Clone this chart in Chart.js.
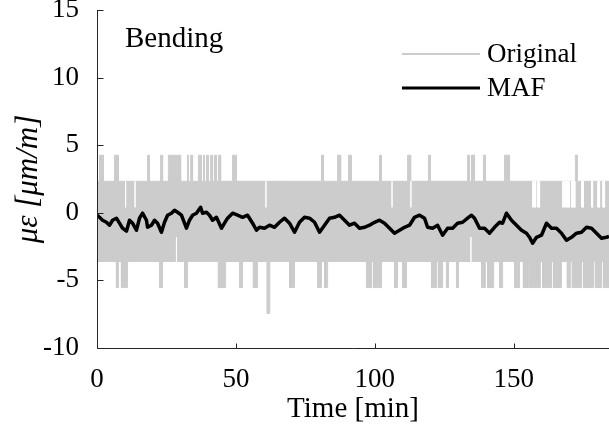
<!DOCTYPE html>
<html>
<head>
<meta charset="utf-8">
<script src="https://cdn.jsdelivr.net/npm/chart.js@4.4.1/dist/chart.umd.min.js"></script>
<style>
  html, body { margin: 0; padding: 0; background: #fff; }
</style>
</head>
<body>
<canvas id="bendingChart" width="609" height="432"></canvas>
<script>
// tick labels
const xTicks = [0, 50, 100, 150];
const yTicks = [-10, -5, 0, 5, 10, 15];

// quantized levels of the raw (Original) signal, in microstrain
const bandTop = 2.33;
const bandBottom = -3.63;
const spikeHigh = 4.26;
const spikeLow = -5.53;
const spikeDeep = -7.45;
const gapTopFloor = 0.4;
const gapBottomCeil = -1.8;

// [start, end] in minutes where the raw signal jumps outside the band
const upSpikes = [[0.9,2.3],[6.3,7.7],[18.2,18.9],[22.9,23.6],[25.7,26.8],[27.2,28.6],[29.0,30.1],
  [32.6,32.9],[33.7,34.4],[36.5,37.6],[38.3,38.7],[39.4,40.1],[40.9,41.6],[42.3,43.0],[43.7,44.5],
  [48.8,50.2],[80.8,81.5],[86.6,87.7],[90.5,91.6],[101.7,102.4],[111.8,112.9],[119.3,120.0],
  [133.4,134.1],[134.8,135.9],[139.1,139.8],[146.7,148.5],[172.2,172.9]];
const downSpikes = [[7.0,7.7],[8.8,11.0],[22.5,23.6],[31.5,32.6],[43.7,46.3],[51.3,52.4],[56.3,57.8],
  [69.3,71.1],[79.4,80.8],[81.9,83.0],[97.0,98.8],[99.5,101.0],[101.3,102.4],[107.1,108.2],[110.0,111.4],
  [120.4,122.2],[122.9,124.4],[125.8,126.5],[129.4,130.1],[138.4,139.8],[140.6,142.8],[144.9,146.0],
  [150.3,152.1],[153.5,155.3],[155.7,159.6],[160.4,163.6],[164.3,167.2],[169.3,170.4],[171.1,174.4],
  [175.1,178.7],[179.4,181.6],[182.3,184.3]];
const deepSpikes = [[61.3,62.2]];
// places where the raw signal did not reach the band edge
const topGaps = [[10.3,10.3],[13.7,13.7],[60.8,60.8],[106.2,106.2],[113.0,113.0],[156.8,157.9],
  [158.6,159.3],[167.6,170.1],[170.8,172.0],[174.4,175.1],[178.0,178.4],[180.2,180.9],[182.0,182.7]];
const bottomGaps = [[28.6,28.6],[134.6,134.6]];

// moving average filter
const mafTime = [0,0.9,2.0,3.4,4.5,5.6,7.0,8.1,9.2,10.6,11.7,12.8,14.2,15.3,16.4,17.8,18.2,19.6,20.7,21.8,
  23.2,24.3,25.4,26.8,27.9,29.0,30.4,31.5,32.2,33.3,34.4,35.8,37.3,38.0,39.4,40.5,41.6,43.0,44.8,45.9,
  47.0,48.8,50.6,52.4,54.2,56.0,57.4,58.5,60.3,62.1,63.9,65.7,67.5,69.3,71.1,72.9,74.7,76.5,78.3,80.1,
  81.9,83.7,85.5,87.3,89.1,90.9,92.7,94.5,96.3,98.1,99.9,101.7,103.5,105.3,107.1,108.9,110.7,112.5,114.3,116.1,
  117.9,119.0,120.8,122.6,124.4,126.2,128.0,129.8,131.6,133.4,134.8,135.9,137.7,139.5,141.3,143.1,144.9,146.0,147.4,149.2,
  151.0,152.8,154.6,155.7,156.8,158.2,160.0,161.8,163.6,165.4,167.2,169.0,170.8,172.6,174.4,176.2,178.0,179.8,181.6,183.4,184.3];
const mafValue = [-0.18,-0.33,-0.55,-0.70,-0.92,-0.55,-0.40,-0.77,-1.14,-1.36,-0.55,-0.77,-1.29,-0.40,-0.03,-0.55,-1.07,-0.92,-0.55,-0.77,
  -1.44,-0.70,-0.18,-0.03,0.19,0.04,-0.18,-0.77,-1.14,-0.55,-0.18,-0.03,0.41,-0.03,0.04,-0.18,-0.55,-0.33,-1.14,-0.77,
  -0.40,-0.03,-0.18,-0.33,-0.18,-0.77,-1.29,-1.07,-1.14,-0.92,-1.07,-0.70,-0.40,-0.77,-1.44,-0.70,-0.33,-0.40,-0.70,-1.44,
  -0.92,-0.40,-0.33,-0.18,-0.55,-0.92,-0.77,-1.14,-1.07,-0.92,-0.70,-0.55,-0.77,-1.14,-1.51,-1.29,-1.07,-0.92,-0.33,-0.18,
  -0.40,-1.07,-1.14,-0.92,-1.66,-1.14,-1.14,-0.77,-0.70,-0.40,-0.18,-0.40,-1.14,-1.14,-1.51,-1.07,-0.70,-0.77,-0.03,-0.55,
  -0.92,-1.29,-1.51,-1.81,-2.25,-1.81,-1.66,-0.77,-1.14,-1.14,-1.51,-2.03,-1.81,-1.51,-1.44,-1.07,-1.14,-1.51,-1.88,-1.81,-1.75];

const X_MAX = 184.3;
const GRAY = '#cccccc';
const AXIS = '#262626';
const FONT = "'Liberation Serif', 'Times New Roman', serif";

// turn [start,end] pairs into closed step blocks, split by nulls
function blocks(list, base, peak) {
  const pts = [];
  list.forEach(([a, b]) => {
    pts.push({x: a, y: base}, {x: a, y: peak}, {x: b, y: peak}, {x: b, y: base}, {x: b, y: null});
  });
  return pts;
}

const mafData = mafTime.map((t, i) => ({x: t, y: mafValue[i]}));

const decorations = {
  id: 'decorations',
  afterDatasetsDraw(chart) {
    const {ctx, chartArea: area, scales: {x, y}} = chart;
    ctx.save();
    // axes + inward ticks
    ctx.strokeStyle = AXIS;
    ctx.lineWidth = 1;
    ctx.beginPath();
    const left = Math.round(area.left) + 0.5;
    const bottom = Math.round(area.bottom) + 0.5;
    ctx.moveTo(left, area.top);
    ctx.lineTo(left, bottom);
    ctx.lineTo(area.right, bottom);
    xTicks.forEach(v => {
      const px = Math.round(x.getPixelForValue(v)) + 0.5;
      ctx.moveTo(px, bottom);
      ctx.lineTo(px, bottom - 5);
    });
    yTicks.forEach(v => {
      const py = Math.round(y.getPixelForValue(v)) + 0.5;
      ctx.moveTo(left, py);
      ctx.lineTo(left + 6, py);
    });
    ctx.stroke();

    // label inside the axes
    ctx.fillStyle = '#000';
    ctx.font = '29px ' + FONT;
    ctx.textBaseline = 'alphabetic';
    ctx.textAlign = 'left';
    ctx.fillText('Bending', area.left + 28, area.top + 37);

    // legend
    ctx.font = '27px ' + FONT;
    const ds = chart.data.datasets;
    const entries = [ds.find(d => d.label === 'Original'), ds.find(d => d.label === 'MAF')];
    const lx0 = area.right - 207, lx1 = area.right - 129;
    entries.forEach((d, i) => {
      const ly = area.top + 44 + i * 34;
      ctx.strokeStyle = d.borderColor;
      ctx.lineWidth = d.label === 'MAF' ? 3 : 2;
      ctx.beginPath();
      ctx.moveTo(lx0, ly);
      ctx.lineTo(lx1, ly);
      ctx.stroke();
      ctx.fillText(d.label, lx1 + 7, ly + 8);
    });
    ctx.restore();
  }
};

const ctx = document.getElementById('bendingChart').getContext('2d');
const chart = new Chart(ctx, {
  type: 'line',
  data: {
    datasets: [
      { label: 'MAF', data: mafData, borderColor: '#000', borderWidth: 3.5, order: 0, borderJoinStyle: 'round' },
      { label: 'topGaps', data: blocks(topGaps, gapTopFloor, bandTop), borderColor: '#fff', backgroundColor: '#fff',
        borderWidth: 1, fill: {value: gapTopFloor}, order: 1 },
      { label: 'bottomGaps', data: blocks(bottomGaps, bandBottom, gapBottomCeil), borderColor: '#fff', backgroundColor: '#fff',
        borderWidth: 1, fill: {value: bandBottom}, order: 1 },
      { label: 'Original', data: blocks(upSpikes, bandTop, spikeHigh), borderColor: GRAY, backgroundColor: GRAY,
        borderWidth: 1, fill: {value: bandTop}, order: 2 },
      { label: 'downSpikes', data: blocks(downSpikes, bandBottom, spikeLow), borderColor: GRAY, backgroundColor: GRAY,
        borderWidth: 1, fill: {value: bandBottom}, order: 2 },
      { label: 'deepSpikes', data: blocks(deepSpikes, bandBottom, spikeDeep), borderColor: GRAY, backgroundColor: GRAY,
        borderWidth: 1, fill: {value: bandBottom}, order: 2 },
      { label: 'band', data: [{x: 0, y: bandTop}, {x: X_MAX, y: bandTop}], borderColor: GRAY, backgroundColor: GRAY,
        borderWidth: 1, fill: {value: bandBottom}, order: 3 }
    ]
  },
  options: {
    responsive: false,
    animation: false,
    spanGaps: false,
    elements: { point: { radius: 0 }, line: { tension: 0 } },
    layout: { padding: { top: 10, right: 0, bottom: 0, left: 0 } },
    plugins: { legend: { display: false }, tooltip: { enabled: false } },
    scales: {
      x: {
        type: 'linear', min: 0, max: X_MAX,
        afterBuildTicks: s => { s.ticks = xTicks.map(v => ({value: v})); },
        afterFit: s => { s.height = 84; s.paddingLeft = 0; s.paddingRight = 0; },
        grid: { display: false },
        border: { display: false },
        ticks: { color: '#000', font: { family: FONT, size: 27 }, padding: 8, maxRotation: 0 },
        title: { display: true, text: 'Time [min]', color: '#000', font: { family: FONT, size: 29 },
          padding: { top: 0, bottom: 5 } }
      },
      y: {
        min: -10, max: 15,
        afterBuildTicks: s => { s.ticks = yTicks.map(v => ({value: v})); },
        afterFit: s => { s.width = 97; s.paddingTop = 0; s.paddingBottom = 0; },
        grid: { display: false },
        border: { display: false },
        ticks: { color: '#000', font: { family: FONT, size: 27 }, padding: 10 },
        title: { display: true, text: 'με [μm/m]', color: '#000',
          font: { family: FONT, size: 31, style: 'italic' }, padding: { top: 10, bottom: 0 } }
      }
    }
  },
  plugins: [decorations]
});
</script>
</body>
</html>
